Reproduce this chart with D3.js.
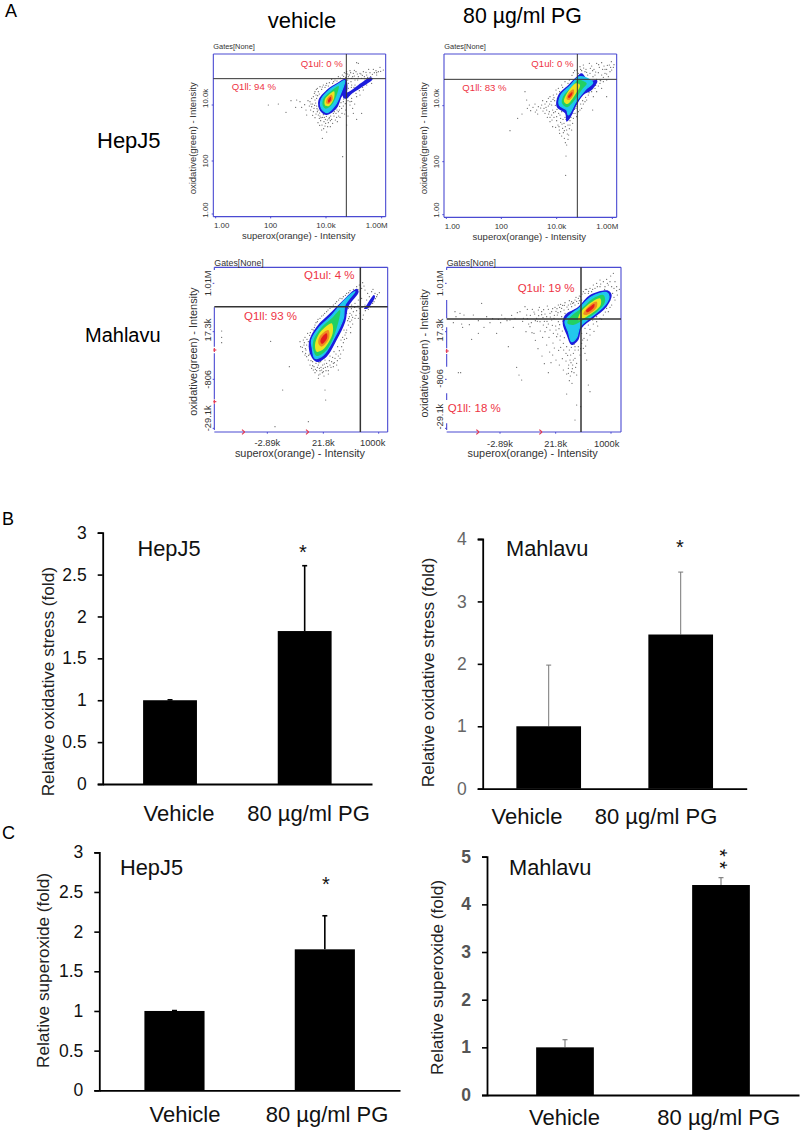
<!DOCTYPE html>
<html><head><meta charset="utf-8">
<style>html,body{margin:0;padding:0;background:#fff}svg{display:block}text{font-family:"Liberation Sans",Arial,sans-serif}</style>
<script src="https://cdn.jsdelivr.net/npm/d3@7"></script></head><body>
<script>
// ---------- bar data (fold change) ----------
const categories = ["Vehicle", "80 µg/ml PG"];
const oxidativeHepMeans = [1, 1.826];
const oxidativeHepTops = [1.005, 2.606];
const oxidativeMahMeans = [1, 2.47];
const oxidativeMahTops = [1.98, 3.47];
const superoxideHepMeans = [1, 1.777];
const superoxideHepTops = [1.005, 2.2];
const superoxideMahMeans = [1, 4.406];
const superoxideMahTops = [1.16, 4.56];
const ticksHalf = [0, 0.5, 1, 1.5, 2, 2.5, 3];
const ticksFour = [0, 1, 2, 3, 4];
const ticksFive = [0, 1, 2, 3, 4, 5];

// ---------- flow cytometry: events in display channel units ----------
const eventsHepVehicle = [[265,225],[295,222],[318,247],[333,212],[350,210],[360,215],[378,240],[380,255],[365,232],[347,232],[390,215],[395,205],[398,222],[402,235],[405,210],[408,195],[410,228],[412,245],[415,255],[418,265],[422,272],[428,262],[432,275],[437,280],[442,270],[448,262],[455,268],[462,258],[468,250],[475,245],[480,262],[485,235],[490,228],[472,275],[425,300],[427,325],[435,288],[488,380],[500,285],[530,268],[545,250],[497,240],[510,215],[518,235],[405,185],[412,175],[420,170],[430,165],[440,160],[455,148],[465,150],[475,140],[487,135],[500,125],[510,122],[520,130],[530,98],[535,100],[540,130],[550,125],[560,135],[570,128],[580,118],[590,128],[600,112],[595,125],[610,120],[505,140],[515,145],[525,150],[535,140],[545,145],[555,150],[505,160],[515,165],[525,165],[540,170],[505,175],[560,165],[550,180],[530,200],[540,195],[515,205],[510,225],[575,160],[590,135],[395,230],[400,245],[408,252],[414,240],[420,258],[430,254],[436,268],[445,278],[452,258],[460,250],[470,262],[478,240],[490,215],[498,130],[508,135],[518,140],[528,125],[493,128],[503,150],[513,155],[523,138],[533,150],[543,132],[553,140],[563,142],[583,128],[572,140],[400,200],[410,205],[403,190],[415,185],[425,178],[435,172],[445,168],[458,160],[393,222],[417,230],[426,285],[443,290],[458,280],[466,270],[486,250],
 [407,219],[411,236],[404,226],[419,249],[423,263],[433,262],[439,259],[447,266],[451,272],[463,245],[471,240],[479,229],[483,218],[491,207],[496,221],[413,197],[418,192],[409,178],[427,171],[438,166],[448,158],[461,155],[471,153],[481,144],[491,139],[497,142],[503,132],[512,128],[523,121],[532,132],[547,136],[558,127],[566,118],[577,133],[588,122],[602,124],[514,172],[522,172],[531,178],[519,186],[528,190],[538,182],[548,172],[508,196],[504,212],[515,214],[524,222],[392,240],[388,228],[384,212],[374,224],[398,256],[405,263],[414,278],[419,286],[431,296],[440,306],[451,290],[476,258],[494,252],[504,258],[520,250]];
const eventsHepDrug = [[300,302],[323,265],[336,252],[345,185],[350,210],[352,235],[358,225],[362,242],[375,222],[380,240],[395,225],[398,212],[402,235],[405,250],[410,215],[412,262],[415,228],[418,245],[420,275],[425,255],[428,290],[432,262],[436,245],[440,272],[444,285],[448,300],[452,265],[456,282],[460,308],[463,325],[466,290],[470,300],[473,270],[468,378],[467,436],[476,315],[480,285],[485,300],[455,245],[490,265],[495,250],[510,240],[548,240],[590,200],[420,200],[430,195],[438,180],[445,175],[455,165],[465,155],[478,150],[490,128],[500,120],[510,110],[520,105],[528,118],[538,100],[545,108],[552,118],[560,100],[568,112],[575,98],[582,108],[590,118],[598,105],[604,95],[610,112],[540,130],[555,135],[565,128],[575,135],[585,130],[600,125],[595,140],[570,160],[580,155],[560,185],[550,200],[535,195],[530,210],[520,222],[515,235],[505,245],[498,235],[540,170],[575,175],[525,125],[515,122],[505,130],[560,148],[570,150],[500,260],[488,280],[474,285],[458,295],[440,260],[428,240],[415,205],[405,222],[425,225],[434,212],[442,205],[410,240],[420,262],[450,255],[462,280],[468,268],[480,272],[533,135],[548,122],[585,118],[605,120],[590,150],[555,175],[545,185],[525,215],
 [429,208],[423,214],[436,226],[441,238],[446,250],[431,248],[416,252],[452,277],[459,268],[465,262],[471,258],[478,296],[483,262],[489,250],[493,238],[501,230],[512,222],[518,212],[527,202],[537,188],[548,176],[557,166],[565,168],[572,152],[580,142],[590,132],[512,118],[521,114],[530,127],[541,115],[549,140],[557,126],[566,104],[578,118],[592,106],[602,112],[612,104],[494,122],[486,136],[474,160],[458,172],[449,185],[440,192],[432,203],[419,222],[408,232],[399,243],[392,234],[385,230],[376,246],[369,232],[383,252],[426,270],[437,292],[449,310],[455,318],[466,338],[472,312],[463,302],[447,290],[474,328],[470,345]];
const eventsMahVehicle = [[125,243],[125,262],[125,278],[272,274],[328,350],[308,420],[285,530],[385,515],[435,420],[437,450],[405,368],[415,385],[360,275],[362,290],[368,305],[372,285],[375,262],[378,300],[380,320],[383,250],[385,330],[390,345],[395,355],[400,240],[402,350],[405,225],[410,362],[415,345],[418,355],[420,372],[425,360],[428,345],[432,378],[436,352],[440,340],[445,362],[450,345],[455,335],[460,350],[465,325],[470,345],[475,318],[480,325],[485,290],[490,278],[495,255],[500,240],[505,225],[510,215],[515,210],[412,215],[420,205],[430,195],[440,185],[450,175],[460,165],[470,155],[480,145],[490,140],[500,130],[510,122],[520,118],[530,110],[538,105],[545,115],[555,120],[548,98],[575,125],[585,130],[598,128],[590,140],[568,140],[560,150],[505,175],[515,165],[525,160],[535,150],[545,145],[555,165],[565,178],[510,190],[520,185],[530,182],[540,190],[550,195],[525,205],[535,205],[508,200],[500,190],[515,195],[505,160],[495,175],[572,170],[582,155],[395,265],[388,290],[392,305],[398,335],[408,340],[422,335],[435,330],[450,318],[462,305],[473,290],[483,270],[492,240],[385,275],[380,285],[370,270],[375,315],[420,362],[430,365],[416,375],
 [367,292],[373,278],[377,310],[381,268],[386,316],[389,256],[393,332],[398,347],[403,232],[406,358],[412,352],[417,338],[423,352],[427,368],[433,342],[438,362],[443,350],[448,332],[453,352],[458,322],[463,338],[468,312],[472,332],[478,302],[482,312],[488,262],[493,268],[498,248],[503,212],[512,232],[518,222],[391,248],[396,238],[408,218],[414,208],[425,198],[434,190],[444,180],[456,170],[466,160],[476,150],[486,146],[496,136],[506,128],[516,134],[526,128],[534,118],[541,124],[552,108],[563,130],[579,118],[592,134],[514,176],[524,172],[534,168],[546,172],[556,182],[518,202],[528,196],[538,176],[548,208],[506,206],[494,200],[586,146],[578,160],[400,360],[388,312],[376,296],[430,355],[445,372],[460,340],[475,360],[490,300],[500,265],[512,248]];
const eventsMahDrug = [[135,185],[150,190],[130,218],[155,222],[158,232],[185,268],[215,160],[190,195],[205,212],[230,200],[240,218],[265,208],[285,205],[295,290],[300,210],[310,232],[315,205],[320,352],[327,375],[335,390],[145,368],[152,368],[260,250],[275,195],[345,170],[352,178],[361,196],[372,186],[338,214],[356,222],[348,245],[382,214],[366,248],[391,243],[376,271],[398,262],[384,296],[410,285],[396,318],[419,306],[403,341],[423,338],[415,368],[420,190],[385,180],[395,185],[405,192],[415,178],[425,185],[435,172],[445,165],[455,175],[465,158],[475,165],[485,155],[495,150],[505,145],[512,140],[520,125],[530,118],[540,115],[550,105],[560,100],[570,110],[580,95],[590,88],[600,95],[610,70],[615,95],[612,115],[620,110],[608,130],[622,135],[615,150],[605,165],[595,185],[580,195],[570,205],[560,215],[550,222],[540,238],[530,250],[522,265],[515,280],[520,295],[525,310],[530,330],[535,405],[540,425],[512,470],[495,510],[500,465],[470,432],[475,355],[480,330],[490,310],[495,325],[500,340],[488,345],[478,300],[470,290],[460,280],[450,270],[440,260],[430,250],[420,240],[410,232],[400,225],[390,215],[380,205],[425,210],[437,228],[447,236],[451,258],[463,263],[432,205],[442,195],[452,185],[462,180],[445,215],[405,245],[417,262],[429,279],[433,294],[446,301],[457,326],[468,333],[475,370],[485,365],[495,300],[505,290],[510,315],[468,310],[482,315],[490,330],[476,345],[460,360],[448,345],[438,330],[428,315],[372,250],[360,230],[350,195],[340,205],[330,185],[505,300],[515,250],[525,235],[535,225],[548,210],[560,200],[575,180],[590,175],[600,150],[525,130],[515,150],[505,160],[495,165],[485,170],[475,178],[465,190],[455,200],[570,90],[585,110],[595,105],[605,110],[545,125],[535,130],[555,115],
 [388,172],[401,179],[412,168],[428,176],[438,184],[449,172],[458,166],[471,171],[482,162],[491,158],[500,154],[508,152],[444,188],[433,196],[421,201],[411,214],[399,203],[386,197],[374,192],[367,178],[458,213],[449,224],[438,240],[427,226],[415,222],[403,214],[443,252],[457,243],[466,236],[452,292],[461,300],[473,316],[484,292],[492,283],[483,338],[497,352],[487,356],[470,372],[481,378],[492,368],[478,392],[500,375],[486,400],[495,290],[512,296],[518,270],[532,270],[527,288],[540,255],[552,244],[563,228],[575,208],[586,186],[600,172],[612,142],[620,122],[628,118],[602,78],[592,100],[584,118],[572,102],[562,110],[548,118],[536,124],[526,118],[516,132],[508,138],[498,142],[488,160],[478,152],[463,166],[452,163],[441,176],[410,200],[395,194],[376,212],[364,218],[352,206],[322,188],[305,196],[291,212],[272,218],[248,206],[222,232],[205,250],[178,224],[162,195],[138,200]];

// density levels, outermost first; outlines in display channel units
const levelColors = ["#1c1cdc", "#20c8ec", "#22d064", "#eee422", "#f08a20", "#e41c1c"];
const levelsHepVehicle = [
 [[497,147],[500,190],[487,198],[470,235],[440,255],[420,242],[415,212],[440,180],[470,160]],
 [[494,152],[482,190],[466,225],[441,248],[424,234],[424,208],[450,178],[475,162]],
 [[476,168],[470,195],[455,225],[437,236],[428,226],[430,206],[450,186]],
 [[462,184],[462,205],[447,228],[435,226],[435,208],[446,195]],
 [[455,194],[458,208],[446,222],[439,220],[441,206]],
 [[452,200],[453,210],[446,218],[444,211]]];
const tailHepVehicle = [[490,190],[505,186],[535,165],[572,142],[578,147],[545,172],[512,194],[500,206],[490,204]];
const levelsHepDrug = [
 [[515,130],[535,150],[562,152],[545,180],[520,195],[500,225],[480,265],[470,275],[465,250],[440,230],[445,195],[475,165],[500,140]],
 [[510,140],[548,158],[525,180],[498,215],[475,255],[470,240],[448,225],[452,197],[480,168]],
 [[505,150],[530,160],[515,180],[490,215],[470,232],[456,220],[460,198],[485,172]],
 [[498,160],[510,165],[495,195],[472,222],[462,215],[468,195]],
 [[490,178],[492,190],[478,210],[470,207],[475,190]],
 [[487,186],[486,194],[477,204],[474,200]]];
const levelsMahVehicle = [
 [[530,116],[536,125],[505,170],[496,215],[470,270],[440,320],[410,336],[392,316],[387,275],[410,230],[450,190],[485,155]],
 [[525,125],[495,165],[490,205],[462,265],[430,315],[405,325],[397,295],[395,270],[418,232],[455,197],[490,155]],
 [[480,180],[470,235],[440,300],[410,318],[400,300],[400,272],[425,232],[455,205]],
 [[455,220],[458,250],[430,298],[410,305],[405,285],[415,255],[435,232]],
 [[445,240],[447,265],[425,290],[415,280],[420,258]],
 [[440,250],[441,265],[426,282],[421,274],[427,260]]];
const tailMahVehicle = [[558,168],[572,146],[582,135],[585,140],[574,162],[562,176],[552,176]];
const levelsMahDrug = [
 [[595,122],[605,135],[590,170],[550,205],[515,235],[505,270],[485,285],[470,255],[458,220],[465,195],[505,170],[540,135]],
 [[590,128],[597,140],[585,165],[545,200],[510,230],[500,262],[485,275],[475,245],[465,215],[475,200],[510,172],[545,140]],
 [[580,135],[585,155],[555,190],[520,210],[490,225],[472,220],[480,202],[515,175],[550,145]],
 [[570,145],[572,165],[530,200],[505,210],[510,190],[540,160]],
 [[560,155],[560,172],[530,195],[520,192],[535,170]],
 [[553,162],[552,172],[532,187],[528,182],[538,172]]];

// ---------- drawing ----------
const W = 800, H = 1130;
const svg = d3.select("body").append("svg").attr("width", W).attr("height", H).attr("viewBox", [0,0,W,H]);
const blur = svg.append("defs").append("filter").attr("id","soft").attr("x","-5%").attr("y","-5%").attr("width","110%").attr("height","110%");
blur.append("feGaussianBlur").attr("stdDeviation", 0.5);

function label(g, s, x, y, o = {}) {
  const t = g.append("text").attr("x", x).attr("y", y).text(s)
    .attr("font-size", o.size || 14).attr("fill", o.fill || "#000")
    .attr("text-anchor", o.anchor || "start");
  if (o.rot) t.attr("transform", `rotate(${o.rot},${x},${y})`);
  return t;
}

// panel letters and headers
label(svg, "A", 5, 17, {size:18}); label(svg, "B", 2, 525, {size:18}); label(svg, "C", 2, 839, {size:18});
label(svg, "vehicle", 302, 28, {size:22, anchor:"middle"});
label(svg, "80 µg/ml PG", 522.5, 23, {size:21.3, anchor:"middle"});
label(svg, "HepJ5", 97, 148, {size:22});
label(svg, "Mahlavu", 85, 342, {size:20});

function flowPanel(c) {
  const g = svg.append("g");
  const x = d3.scaleLinear().domain([c.l, c.r]).range([c.ox + c.l/3, c.ox + c.r/3]);
  const y = d3.scaleLinear().domain([c.b, c.t]).range([c.oy + c.b/3, c.oy + c.t/3]);
  const art = g.append("g").attr("filter","url(#soft)");
  art.append("g").selectAll("circle").data(c.events).join("circle")
    .attr("cx", d => x(d[0])).attr("cy", d => y(d[1])).attr("r", 0.6).attr("fill", "#5a5a5a");
  const line = d3.line().x(d => x(d[0])).y(d => y(d[1])).curve(d3.curveCatmullRomClosed.alpha(0.5));
  if (c.tail) art.append("path").attr("d", line(c.tail)).attr("fill", levelColors[0]);
  art.append("g").selectAll("path").data(c.levels).join("path")
    .attr("d", d => line(d)).attr("fill", (d,i) => levelColors[i])
    .attr("stroke", (d,i) => i === 1 ? levelColors[1] : "none").attr("stroke-width", 1.2);

  const blue = "#4a4ad2";
  const seg = (x1,y1,x2,y2,col,w) => g.append("line").attr("x1",x(x1)).attr("y1",y(y1)).attr("x2",x(x2)).attr("y2",y(y2)).attr("stroke",col).attr("stroke-width",w);
  seg(c.l,c.t,c.r,c.t,blue,1.1); seg(c.r,c.t,c.r,c.b,blue,1.1); seg(c.l,c.b,c.r,c.b,blue,1.1);
  (c.leftAxis || [[c.t,c.b]]).forEach(s => seg(c.l,s[0],c.l,s[1],blue,1.1));
  (c.redV || []).forEach(v => seg(c.l-3,v,c.l+6,v,"#e23b55",1.2));
  (c.redV || []).forEach(v => seg(c.l,v-6,c.l,v+6,"#e23b55",1.2));
  (c.redH || []).forEach(v => { seg(v-4,c.b-7,v+4,c.b,"#e23b55",1.2); seg(v-4,c.b+7,v+4,c.b,"#e23b55",1.2); });
  seg(c.l,c.gy,c.r,c.gy,"#333",c.gw); seg(c.gx,c.t,c.gx,c.b,"#333",c.gw);
  c.xticks.forEach(t => seg(t[1],c.b,t[1],c.b+5,blue,1));
  c.yticks.forEach(t => seg(c.l-5,t[1],c.l,t[1],blue,1));
  label(g, "Gates[None]", x(c.gates[0]), y(c.gates[1]), {size:c.fs-1.5, fill:"#333"});
  c.q.forEach(q => label(g, q[0], x(q[1]), y(q[2]), {size:c.qs, fill:"#ee3344"}));
  c.xticks.forEach(t => label(g, t[0], x(t[2]), y(c.xb), {size:c.fs-1, fill:"#333", anchor:"middle"}));
  c.yticks.forEach(t => label(g, t[0], x(c.ylx), y(t[2]), {size:c.fs-1, fill:"#333", anchor:"middle", rot:-90}));
  label(g, "superox(orange) - Intensity", x(c.xt[0]), y(c.xt[1]), {size:c.fs+0.6, fill:"#333", anchor:"middle"});
  label(g, c.ytext, x(c.yt[0]), y(c.yt[1]), {size:c.fs+0.6, fill:"#333", anchor:"middle", rot:-90});
}

flowPanel({ox:180, oy:30, l:100, r:617, t:72, b:560, gx:499, gy:146, gw:1, events:eventsHepVehicle, levels:levelsHepVehicle, tail:tailHepVehicle,
  fs:8.9, qs:9.6, gates:[100,57], q:[["Q1ul: 0 %",362,110],["Q1ll: 94 %",155,180]],
  xticks:[["1.00",107,125],["100",272,272],["10.0k",438,438],["1.00M",605,590]], xb:595,
  yticks:[["10.0k",225,205],["100",393,393],["1.00",552,540]], ylx:85, xt:[356,628], yt:[47,325], ytext:"oxidative(green) - Intensity"});
flowPanel({ox:410, oy:30, l:102, r:620, t:72, b:562, gx:502, gy:148, gw:1, events:eventsHepDrug, levels:levelsHepDrug,
  fs:8.9, qs:9.6, gates:[103,58], q:[["Q1ul: 0 %",364,112],["Q1ll: 83 %",157,182]],
  xticks:[["1.00",109,127],["100",274,274],["10.0k",440,440],["1.00M",607,592]], xb:597,
  yticks:[["10.0k",227,205],["100",395,395],["1.00",554,540]], ylx:88, xt:[358,630], yt:[50,325], ytext:"oxidative(green) - Intensity"});
flowPanel({ox:180, oy:250, l:103, r:623, t:52, b:546, gx:541, gy:170, gw:1.5, events:eventsMahVehicle, levels:levelsMahVehicle, tail:tailMahVehicle,
  fs:10.3, qs:11.5, gates:[103,47], q:[["Q1ul: 4 %",372,88],["Q1ll: 93 %",192,210]],
  leftAxis:[[52,60],[172,290],[310,448],[462,540]], redV:[300,455], redH:[190,382],
  xticks:[["-2.89k",262,262],["21.8k",430,430],["1000k",596,578]], xb:587,
  yticks:[["1.01M",100,100],["17.3k",245,240],["-806",388,388],["-29.1k",535,505]], ylx:92, xt:[360,620], yt:[50,305], ytext:"oxidative(green) - Intensity"});
flowPanel({ox:410, oy:250, l:110, r:633, t:52, b:546, gx:513, gy:207, gw:1.5, events:eventsMahDrug, levels:levelsMahDrug,
  fs:10.3, qs:11.5, gates:[110,47], q:[["Q1ul: 19 %",323,125],["Q1ll: 18 %",113,487]],
  leftAxis:[[52,60],[150,205],[232,295],[312,350],[430,450],[520,540]], redV:[303], redH:[203,392],
  xticks:[["-2.89k",270,270],["21.8k",437,437],["1000k",603,590]], xb:590,
  yticks:[["1.01M",100,100],["17.3k",245,240],["-806",388,385],["-29.1k",535,500]], ylx:100, xt:[368,622], yt:[55,310], ytext:"oxidative(green) - Intensity"});

function barPanel(c) {
  const g = svg.append("g");
  const x = d3.scaleBand().domain(categories).range([c.x0, c.x1]).paddingInner(c.pi).paddingOuter(c.pi/2);
  const y = d3.scaleLinear().domain([0, c.ymax]).range([c.y0, c.y1]);
  g.selectAll(".err").data(categories).join("line").attr("class","err")
    .attr("x1", d => x(d)+x.bandwidth()/2).attr("x2", d => x(d)+x.bandwidth()/2)
    .attr("y1", (d,i) => y(c.means[i])).attr("y2", (d,i) => y(c.tops[i]))
    .attr("stroke", c.errColor).attr("stroke-width", c.errW);
  g.selectAll(".cap").data(categories).join("line").attr("class","cap")
    .attr("x1", d => x(d)+x.bandwidth()/2-2.5).attr("x2", d => x(d)+x.bandwidth()/2+2.5)
    .attr("y1", (d,i) => y(c.tops[i])).attr("y2", (d,i) => y(c.tops[i]))
    .attr("stroke", c.errColor).attr("stroke-width", c.errW);
  g.selectAll(".bar").data(categories).join("rect").attr("class","bar")
    .attr("x", d => x(d)).attr("width", x.bandwidth())
    .attr("y", (d,i) => y(c.means[i])).attr("height", (d,i) => y(0)-y(c.means[i]))
    .attr("fill", "#000");
  const ax = g.append("g").attr("transform", `translate(${c.x0},0)`)
    .call(d3.axisLeft(y).tickValues(c.ticks).tickFormat(d3.format("~g")).tickSize(5).tickPadding(c.tp));
  ax.select(".domain").attr("stroke","#000").attr("stroke-width",1.8);
  ax.selectAll(".tick line").attr("stroke","#000").attr("stroke-width",1.6);
  ax.selectAll("text").attr("font-size",17.5).attr("fill",c.tickColor)
    .attr("font-family",'"Liberation Sans",Arial,sans-serif').attr("font-weight",c.tickWeight||"normal");
  const base = g.append("g").attr("transform", `translate(0,${c.y0})`).call(d3.axisBottom(d3.scaleLinear().domain([0,1]).range([c.x0,c.x1])).tickValues([]).tickSizeOuter(0));
  base.select(".domain").attr("stroke","#000").attr("stroke-width",1.8);
  categories.forEach((d,i) => label(g, d, c.catX[i], c.catY, {size:c.catFs, anchor:"middle", fill:"#111"}));
  label(g, c.title, c.titleX, c.titleY, {size:21.8, fill:"#111"});
  label(g, c.ylabel, c.ylX, c.ylY, {size:17.2, anchor:"middle", rot:-90, fill:"#222"});
  if (c.star) label(g, "*", c.star[0], c.star[1], {size:20, anchor:"middle", fill:"#111"});
  // two stacked asterisks: one rotated string, so they are a single text
  if (c.stack) label(g, "**", c.stack[0], c.stack[1], {size:20, fill:"#111", rot:90}).attr("letter-spacing", 4.4);
}

barPanel({x0:102.7,x1:372,y0:784,y1:532.7,ymax:3,pi:0.6,means:oxidativeHepMeans,tops:oxidativeHepTops,ticks:ticksHalf,tp:11,
  errColor:"#000",errW:1.6,tickColor:"#111",catX:[179,308.5],catY:821,catFs:22,title:"HepJ5",titleX:137.5,titleY:556,
  ylabel:"Relative oxidative stress (fold)",ylX:54,ylY:681.7,star:[303,559]});
barPanel({x0:482.7,x1:746.7,y0:788.7,y1:539,ymax:4,pi:0.51,means:oxidativeMahMeans,tops:oxidativeMahTops,ticks:ticksFour,tp:11,
  errColor:"#777",errW:1,tickColor:"#666",catX:[527,656],catY:824,catFs:22,title:"Mahlavu",titleX:506,titleY:556,
  ylabel:"Relative oxidative stress (fold)",ylX:434,ylY:672.5,star:[680,554]});
barPanel({x0:99.3,x1:400,y0:1090.3,y1:852.3,ymax:3,pi:0.6,means:superoxideHepMeans,tops:superoxideHepTops,ticks:ticksHalf,tp:11,
  errColor:"#000",errW:1.6,tickColor:"#111",catX:[185,327],catY:1122,catFs:22,title:"HepJ5",titleX:120,titleY:875,
  ylabel:"Relative superoxide (fold)",ylX:49.3,ylY:970.5,star:[326,891]});
barPanel({x0:487,x1:799,y0:1095,y1:856.7,ymax:5,pi:0.63,means:superoxideMahMeans,tops:superoxideMahTops,ticks:ticksFive,tp:11,
  errColor:"#777",errW:1.1,tickColor:"#555",tickWeight:"bold",catX:[564.5,718.7],catY:1125,catFs:22,title:"Mahlavu",titleX:509,titleY:875,
  ylabel:"Relative superoxide (fold)",ylX:443.3,ylY:977.5,stack:[712.5,849]});
</script></body></html>
